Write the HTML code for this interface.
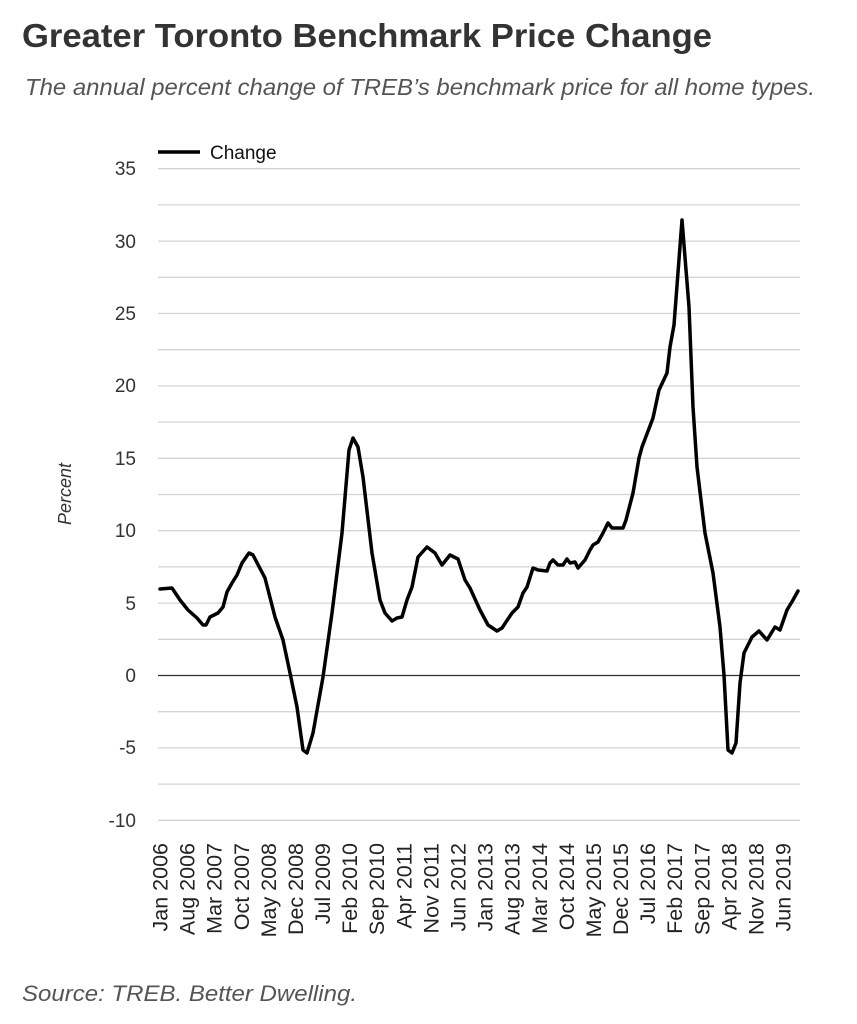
<!DOCTYPE html>
<html><head><meta charset="utf-8"><style>
html,body{margin:0;padding:0;background:#fff;}
svg{display:block;}
text{font-family:"Liberation Sans",sans-serif;}
</style></head><body>
<svg width="857" height="1024" viewBox="0 0 857 1024" xmlns="http://www.w3.org/2000/svg">
<text x="22" y="47" font-size="33" font-weight="bold" fill="#333" textLength="690" lengthAdjust="spacingAndGlyphs">Greater Toronto Benchmark Price Change</text>
<text x="25" y="95" font-size="23" font-style="italic" fill="#555" textLength="790" lengthAdjust="spacingAndGlyphs">The annual percent change of TREB’s benchmark price for all home types.</text>
<text x="22" y="1001" font-size="22" font-style="italic" fill="#555" textLength="335" lengthAdjust="spacingAndGlyphs">Source: TREB. Better Dwelling.</text>

<line x1="158" y1="152" x2="200" y2="152" stroke="#000" stroke-width="3.5"/>
<text x="210" y="159" font-size="19" fill="#111">Change</text>

<g stroke="#d4d4d4" stroke-width="1.3">
<line x1="158" x2="800" y1="168.7" y2="168.7"/>
<line x1="158" x2="800" y1="204.9" y2="204.9"/>
<line x1="158" x2="800" y1="241.1" y2="241.1"/>
<line x1="158" x2="800" y1="277.3" y2="277.3"/>
<line x1="158" x2="800" y1="313.5" y2="313.5"/>
<line x1="158" x2="800" y1="349.7" y2="349.7"/>
<line x1="158" x2="800" y1="385.9" y2="385.9"/>
<line x1="158" x2="800" y1="422.1" y2="422.1"/>
<line x1="158" x2="800" y1="458.3" y2="458.3"/>
<line x1="158" x2="800" y1="494.5" y2="494.5"/>
<line x1="158" x2="800" y1="530.7" y2="530.7"/>
<line x1="158" x2="800" y1="566.9" y2="566.9"/>
<line x1="158" x2="800" y1="603.1" y2="603.1"/>
<line x1="158" x2="800" y1="639.3" y2="639.3"/>
<line x1="158" x2="800" y1="711.7" y2="711.7"/>
<line x1="158" x2="800" y1="747.9" y2="747.9"/>
<line x1="158" x2="800" y1="784.1" y2="784.1"/>
<line x1="158" x2="800" y1="820.3" y2="820.3"/>
</g>
<line x1="158" x2="800" y1="675.5" y2="675.5" stroke="#333" stroke-width="1.3"/>

<g font-size="19" fill="#333" text-anchor="end">
<text x="136" y="175">35</text>
<text x="136" y="248">30</text>
<text x="136" y="320">25</text>
<text x="136" y="392">20</text>
<text x="136" y="465">15</text>
<text x="136" y="537">10</text>
<text x="136" y="610">5</text>
<text x="136" y="682">0</text>
<text x="136" y="754">-5</text>
<text x="136" y="827">-10</text>
</g>
<text transform="translate(71,494) rotate(-90)" font-size="18" font-style="italic" fill="#333" text-anchor="middle">Percent</text>

<g font-size="21.5" fill="#222" text-anchor="end">
<text transform="translate(167.5,843) rotate(-90)">Jan 2006</text>
<text transform="translate(194.6,843) rotate(-90)">Aug 2006</text>
<text transform="translate(221.7,843) rotate(-90)">Mar 2007</text>
<text transform="translate(248.8,843) rotate(-90)">Oct 2007</text>
<text transform="translate(275.9,843) rotate(-90)">May 2008</text>
<text transform="translate(303,843) rotate(-90)">Dec 2008</text>
<text transform="translate(330,843) rotate(-90)">Jul 2009</text>
<text transform="translate(357.1,843) rotate(-90)">Feb 2010</text>
<text transform="translate(384.2,843) rotate(-90)">Sep 2010</text>
<text transform="translate(411.3,843) rotate(-90)">Apr 2011</text>
<text transform="translate(438.4,843) rotate(-90)">Nov 2011</text>
<text transform="translate(465.5,843) rotate(-90)">Jun 2012</text>
<text transform="translate(492.6,843) rotate(-90)">Jan 2013</text>
<text transform="translate(519.7,843) rotate(-90)">Aug 2013</text>
<text transform="translate(546.8,843) rotate(-90)">Mar 2014</text>
<text transform="translate(573.9,843) rotate(-90)">Oct 2014</text>
<text transform="translate(600.9,843) rotate(-90)">May 2015</text>
<text transform="translate(628,843) rotate(-90)">Dec 2015</text>
<text transform="translate(655.1,843) rotate(-90)">Jul 2016</text>
<text transform="translate(682.2,843) rotate(-90)">Feb 2017</text>
<text transform="translate(709.3,843) rotate(-90)">Sep 2017</text>
<text transform="translate(736.4,843) rotate(-90)">Apr 2018</text>
<text transform="translate(763.5,843) rotate(-90)">Nov 2018</text>
<text transform="translate(790.5,843) rotate(-90)">Jun 2019</text>
</g>

<polyline fill="none" stroke="#000" stroke-width="3.5" stroke-linejoin="round" stroke-linecap="round" points="
160,589 172,588 180,600 188,610 197,618 203,625 206,625 210,617 218,613 223,607 227,592 232,583 237,575 242,563 249,553 253,555 265,578 275,617 283,640 290,673 297,707 303,750 307,753 313,733 323,677 332,613 342,533 349,450 353,438 358,447 363,477 372,553 380,600 385,613 392,621 397,618 402,617 407,600 412,587 418,557 427,547 435,553 442,565 450,555 458,559 465,580 470,588 480,610 488,625 497,631 502,628 512,613 518,607 523,593 527,587 533,568 538,570 547,571 550,563 553,560 558,565 563,565 567,559 570,563 575,562 578,568 585,560 590,550 593,545 598,542 603,533 608,523 612,528 623,528 626,520 633,493 639,458 642,447 653,418 659,390 667,373 670,347 674,325 682,220 689,307 693,407 697,467 705,533 713,573 720,627 724,675 728,750 732,753 736,743 740,683 744,653 752,637 759,631 767,640 775,627 780,630 787,610 793,600 798,591"/>
</svg>
</body></html>
